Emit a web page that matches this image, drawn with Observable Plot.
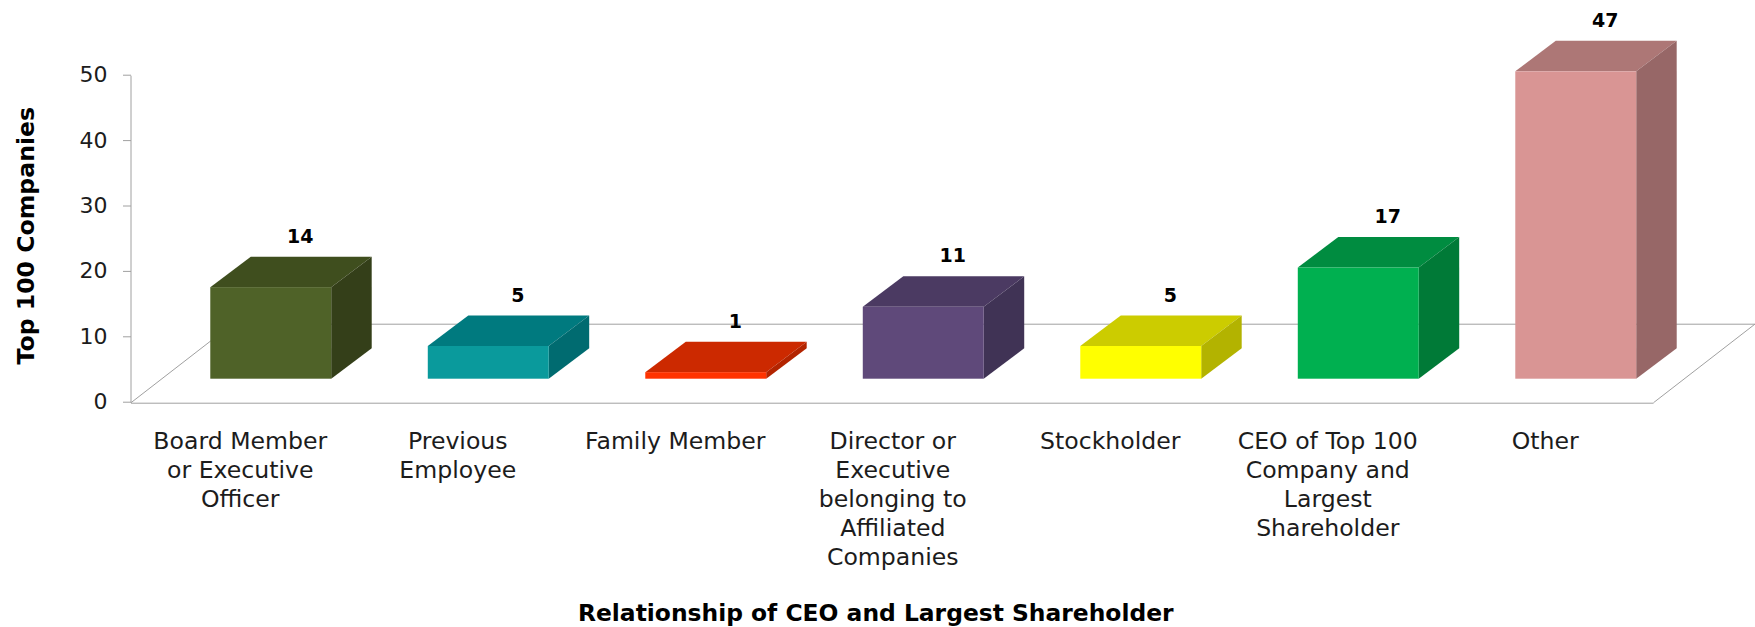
<!DOCTYPE html>
<html>
<head>
<meta charset="utf-8">
<script src="https://cdn.jsdelivr.net/npm/d3@7"></script>
<script src="https://cdn.jsdelivr.net/npm/@observablehq/plot@0.6"></script>
<style>
  html, body { margin: 0; padding: 0; background: #fff; }
  svg { display: block; }
</style>
</head>
<body>
<div id="chart"></div>
<script>
const categories = [
  "Board Member\nor Executive\nOfficer",
  "Previous\nEmployee",
  "Family Member",
  "Director or\nExecutive\nbelonging to\nAffiliated\nCompanies",
  "Stockholder",
  "CEO of Top 100\nCompany and\nLargest\nShareholder",
  "Other"
];
const values = [14, 5, 1, 11, 5, 17, 47];
const yTicks = [0, 10, 20, 30, 40, 50];
const frontColors = ["#4f6228", "#0a9a9c", "#ff3300", "#5f497a", "#ffff00", "#00b050", "#d99594"];
const topColors   = ["#3f4e1e", "#007a7f", "#cc2900", "#4b3a62", "#cccc00", "#008c40", "#ad7776"];
const sideColors  = ["#343f19", "#006b70", "#b32400", "#403355", "#b3b300", "#007a37", "#976767"];

const rows = categories.map((c, i) => ({c, v: values[i], front: frontColors[i], top: topColors[i], side: sideColors[i]}));

// Depth of the 3-D projection, in pixels.
const floorDepth = {x: 102, y: -79};
const barDepth = {x: 40.5, y: -30.5};
const barShift = {x: 31, y: -24};
const lineColor = "#a0a0a0";

function svgEl(ctx, name, attrs) {
  const el = ctx.document.createElementNS("http://www.w3.org/2000/svg", name);
  for (const k in attrs) el.setAttribute(k, attrs[k]);
  return el;
}

// Left wall line, and the two slanted edges of the floor, placed by the scales.
function floorEdges(index, {y}, channels, dims, ctx) {
  const g = svgEl(ctx, "g", {fill: "none", stroke: lineColor});
  const x0 = dims.marginLeft, x1 = dims.width - dims.marginRight;
  const d = [
    `M${x0},${y(50)}V${y(0)}`,
    `M${x0},${y(0)}l${floorDepth.x},${floorDepth.y}`,
    `M${x1},${y(0)}l${floorDepth.x},${floorDepth.y}`
  ];
  for (const s of d) g.appendChild(svgEl(ctx, "path", {d: s}));
  return g;
}

// Top and side faces of every bar, from the same band and linear scales.
function barFaces(index, {x, y}, channels, dims, ctx) {
  const g = svgEl(ctx, "g", {});
  const w = x.bandwidth();
  const {x: ddx, y: ddy} = barDepth;
  for (const r of rows) {
    const l = x(r.c) + barShift.x, rt = l + w;
    const t = y(r.v) + barShift.y, b = y(0) + barShift.y;
    g.appendChild(svgEl(ctx, "path", {fill: r.top,
      d: `M${l},${t}L${rt},${t}L${rt + ddx},${t + ddy}L${l + ddx},${t + ddy}Z`}));
    g.appendChild(svgEl(ctx, "path", {fill: r.side,
      d: `M${rt},${t}L${rt + ddx},${t + ddy}L${rt + ddx},${b + ddy}L${rt},${b}Z`}));
  }
  return g;
}

const font = "'DejaVu Sans', Verdana, sans-serif";

const chart = Plot.plot({
  width: 1755,
  height: 627,
  marginLeft: 131,
  marginRight: 101.5,
  marginTop: 75.7,
  marginBottom: 224.3,
  style: {background: "#fff", fontFamily: font},
  x: {domain: categories, paddingInner: 0.444, paddingOuter: 0.222, round: false, label: null},
  y: {domain: [0, 50], label: null},
  marks: [
    Plot.ruleY([0], {stroke: lineColor}),
    Plot.ruleY([0], {stroke: lineColor, dx: floorDepth.x, dy: floorDepth.y}),
    floorEdges,
    Plot.axisY({ticks: yTicks, tickSize: 8, tickPadding: 16, fontSize: 22, dy: -1, stroke: lineColor, fill: "#1c1c1c", label: null}),
    Plot.axisX({tickSize: 0, tickPadding: 25, fontSize: 23.6, lineHeight: 1.23, fill: "#1c1c1c", label: null}),
    barFaces,
    Plot.barY(rows, {x: "c", y: "v", fill: "front", dx: barShift.x, dy: barShift.y}),
    Plot.text(rows, {x: "c", y: "v", text: d => String(d.v), dx: 60, dy: -75, fontSize: 19, fontWeight: "bold", fill: "#000"}),
    Plot.text(["Top 100 Companies"], {frameAnchor: "left", textAnchor: "middle", rotate: -90, dx: -105, dy: -4, fontSize: 23.6, fontWeight: "bold", fill: "#000"}),
    Plot.text(["Relationship of CEO and Largest Shareholder"], {frameAnchor: "bottom", dx: -17, dy: 218, fontSize: 23.4, fontWeight: "bold", fill: "#000"})
  ]
});
document.getElementById("chart").appendChild(chart);
</script>
</body>
</html>
